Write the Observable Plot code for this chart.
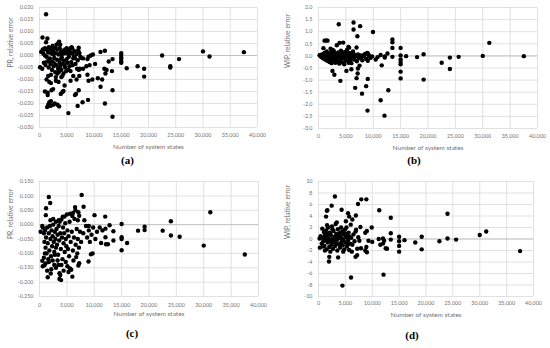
<!DOCTYPE html>
<html><head><meta charset="utf-8">
<script src="https://cdn.jsdelivr.net/npm/d3@7"></script>
<script src="https://cdn.jsdelivr.net/npm/@observablehq/plot@0.6"></script>
<style>
body{margin:0;background:#fff;}
#wrap{position:relative;width:550px;height:348px;overflow:hidden;background:#fff;}
.panel{position:absolute;}
</style></head><body><div id="wrap"></div>
<script>
const xTicks = [0,5000,10000,15000,20000,25000,30000,35000,40000];
const xTitle = "Number of system states";
const yTicksA = [0.02,0.015,0.01,0.005,0,-0.005,-0.01,-0.015,-0.02,-0.025,-0.03];
const yTicksB = [2,1.5,1,0.5,0,-0.5,-1,-1.5,-2,-2.5,-3];
const yTicksC = [0.15,0.1,0.05,0,-0.05,-0.1,-0.15,-0.2,-0.25];
const yTicksD = [10,8,6,4,2,0,-2,-4,-6,-8,-10];

// (a) PR relative error
const pointsA = [
[1200,0.0172],[550,0.0075],[1450,0.0071],[1200,0.0055],[3600,0.0058],[3400,0.0050],[3800,0.0045],[2400,0.0040],[1700,0.0035],[5000,0.0030],[5900,0.0035],[6000,0.0030],[7200,0.0032],[7100,0.0022],[4700,0.0025],[2900,0.0030],[2000,0.0025],[900,0.0025],[600,0.0025],[300,0.0015],[700,0.0008],[1000,0.0000],[1300,-0.0005],[1600,0.0012],[1900,-0.0012],[2200,0.0008],[2500,0.0018],[2700,-0.0010],[3000,0.0010],[3200,-0.0018],[3500,0.0004],[3700,-0.0030],[3900,0.0014],[4100,-0.0008],[4300,0.0020],[4500,-0.0022],[4800,0.0010],[5000,-0.0015],[5200,0.0022],[5400,-0.0005],[5600,0.0015],[5800,-0.0028],[6000,0.0008],[6200,-0.0012],[6400,0.0018],[6600,-0.0035],[6800,0.0005],[7000,-0.0020],[7300,0.0010],[7500,-0.0005],
[800,-0.0030],[1100,-0.0040],[1400,-0.0025],[1700,-0.0050],[2000,-0.0035],[2300,-0.0060],[2600,-0.0045],[2900,-0.0070],[3100,-0.0040],[3400,-0.0055],[3600,-0.0068],[3800,-0.0045],[4000,-0.0060],[4200,-0.0035],[4400,-0.0075],[4700,-0.0050],[4900,-0.0065],[5100,-0.0030],[5500,-0.0045],[5700,-0.0065],[6100,-0.0040],[6900,-0.0055],[7200,-0.0060],[100,-0.0049],[500,-0.0055],[2100,-0.0080],[3000,-0.0090],[3300,-0.0075],[1600,-0.0085],
[1000,0.0030],[1500,0.0020],[2200,0.0030],[2600,0.0005],[3100,0.0045],[3300,0.0025],[3700,0.0030],[4000,0.0005],[4400,0.0008],[4600,0.0015],[5300,0.0005],[5700,0.0030],[6300,-0.0005],[1800,-0.0020],[2400,-0.0025],[2800,-0.0035],[3900,-0.0015],[4600,-0.0040],[5300,-0.0060],[6500,-0.0010],
[1300,-0.0100],[1800,-0.0110],[2100,-0.0115],[3000,-0.0105],[3500,-0.0110],[4000,-0.0090],[4200,-0.0085],[4600,-0.0125],[5700,-0.0105],[6200,-0.0085],
[1000,-0.0150],[1500,-0.0155],[2200,-0.0145],[2500,-0.0140],[3900,-0.0160],[4200,-0.0152],[4400,-0.0148],[1500,-0.0165],
[1400,-0.0215],[1600,-0.0205],[1800,-0.0195],[2100,-0.0190],[2500,-0.0205],[2800,-0.0200],[3300,-0.0205],[3600,-0.0212],[2000,-0.0210],
[5300,-0.0240],
[6500,-0.0165],[6700,-0.0160],[7000,-0.0210],[7200,-0.0145],[7900,-0.0195],[8900,-0.0185],
[6800,-0.0100],[7300,-0.0085],[7400,-0.0055],[8000,-0.0055],[8600,-0.0045],[8800,-0.0080],[9000,-0.0105],[9700,-0.0100],
[7300,0.0010],[7600,-0.0010],[8000,-0.0012],[8800,-0.0015],[9000,-0.0005],[9400,0.0000],[9800,0.0004],[10200,-0.0035],[9200,-0.0040],
[10700,-0.0095],[11200,-0.0130],[11500,-0.0100],[11200,0.0015],[12000,0.0020],[11900,-0.0055],[12300,-0.0060],[12700,-0.0025],[12000,-0.0200],[12100,-0.0075],
[13400,-0.0015],[13300,-0.0065],[13400,-0.0145],[13400,-0.0255],
[15000,0.0010],[15000,0.0002],[15000,-0.0008],[15000,-0.0015],[15000,-0.0025],[15000,-0.0030],
[16000,-0.0053],[18000,-0.0045],[19200,-0.0055],[19200,-0.0088],
[22500,0.0000],[24000,-0.0045],[24000,-0.0050],[25600,-0.0015],[30000,0.0017],[31200,-0.0004],[37500,0.0014]
];

// (b) WIP relative error
const pointsB = [
[3700,1.31],[6400,1.38],[7600,1.23],[6400,1.09],[7100,0.81],[9950,0.99],
[1100,0.63],[1650,0.63],[1400,0.64],[3350,0.44],[3850,0.54],[4500,0.55],[5450,0.37],[5600,0.34],[6950,0.35],[2600,0.25],[2200,0.30],[900,0.32],
[13500,0.68],[13500,0.56],[13500,0.33],[13500,-0.04],
[15000,0.33],[15000,0.02],[15000,-0.15],[15000,-0.25],[15000,-0.35],[15000,-0.65],[15000,-0.93],
[11350,0.04],[12600,0.10],[12100,-0.07],[12100,-0.02],[10800,-0.05],
[16000,-0.01],[18000,-0.05],[19200,0.07],[19200,-0.98],[22500,-0.28],[24000,-0.07],[24000,-0.54],[25600,-0.04],[30000,0.00],[31200,0.54],[37500,-0.01],
[2550,-0.62],[2900,-0.78],[4000,-1.03],[5100,-0.62],[6000,-0.55],[6950,-0.92],[7150,-0.73],[7200,-0.52],[7500,-0.40],[6700,-1.32],[7950,-1.56],[8700,-1.25],[9000,-0.95],[8950,-2.26],[11350,-1.83],[11550,-0.39],[12750,-1.42],[12050,-2.47],[10450,-0.15],
[200,0.03],[400,-0.02],[500,0.05],[600,-0.05],[700,0.02],[800,-0.10],[900,0.08],[1000,-0.03],[1100,0.12],[1200,-0.15],[1300,0.00],[1400,-0.08],[1500,0.18],[1600,-0.20],[1700,0.05],[1800,-0.12],[1900,0.10],[2000,-0.25],[2100,0.02],[2200,-0.05],[2300,0.15],[2400,-0.30],[2500,0.06],[2600,-0.10],[2700,-0.02],[2800,0.20],[2900,-0.18],[3000,0.04],[3100,-0.28],[3200,0.10],[3300,-0.08],[3400,0.00],[3500,-0.22],[3600,0.14],[3700,-0.05],[3800,-0.32],[3900,0.07],[4000,-0.15],[4100,0.22],[4200,-0.02],[4300,-0.26],[4400,0.09],[4500,-0.10],[4600,0.02],[4700,-0.35],[4800,0.15],[4900,-0.06],[5000,-0.20],[5100,0.04],[5200,0.25],[5300,-0.12],[5400,0.01],[5500,-0.28],[5600,0.12],[5700,-0.04],[5800,-0.18],[5900,0.08],[6000,-0.30],[6100,0.00],[6200,-0.08],[6300,0.18],[6500,-0.15],[6600,0.05],[6800,-0.02],[7000,-0.22],[7200,0.06],[7400,-0.10],[7600,0.02],[7800,-0.05],[8000,-0.18],[8300,0.00],[8500,0.08],[8700,-0.12],[9000,0.10],[9000,-0.20],[9200,0.03],[9500,-0.08],[9800,-0.02],
[1000,0.05],[1500,-0.03],[2000,0.08],[2500,-0.15],[3000,-0.05],[3500,0.05],[4000,0.03],[4500,0.12],[5000,0.06],[5500,0.08],[6000,0.10],[3200,-0.12],[2200,-0.20],[1800,0.00],[4200,-0.08],
[8050,0.02],[8900,0.12],[9500,-0.07]
];

// (c) PR relative error
const pointsC = [
[1700,0.096],[1950,0.075],[1200,0.057],[1150,0.033],[7700,0.103],[8050,0.062],[6500,0.061],[6550,0.051],[5600,0.038],[6150,0.041],[4250,0.028],[4550,0.028],[7100,0.043],[7250,0.031],[10050,0.033],[12000,0.028],[31200,0.043],[24000,0.012],[19200,-0.007],[19200,-0.019],[18000,-0.021],[22500,-0.021],[24000,-0.038],[25600,-0.042],[30000,-0.073],[37500,-0.104],[15000,0.002],[15000,-0.044],[15000,-0.050],[15000,-0.089],[16000,-0.064],[13500,-0.023],[13500,-0.055],[12800,-0.002],[11250,-0.064],[12150,-0.068],[12500,-0.068],[12050,-0.014],[12050,-0.044],
[1500,-0.183],[3650,-0.189],[3950,-0.193],[6000,-0.181],[2050,-0.170],[500,-0.126],[900,-0.141],[2150,-0.155],[3450,-0.140],[3650,-0.169],[5800,-0.157],[5550,-0.152],[7100,-0.142],[7250,-0.134],[8950,-0.128],[9400,-0.103],[9700,-0.100],[6700,-0.113],[6900,-0.100],
[200,-0.025],[500,-0.005],[600,-0.010],[800,-0.030],[900,-0.060],[1000,-0.020],[1100,-0.080],[1200,-0.045],[1300,-0.100],[1400,-0.010],[1500,-0.065],[1600,-0.120],[1700,-0.030],[1800,-0.090],[1900,-0.005],[2000,-0.050],[2100,-0.110],[2200,-0.020],[2300,-0.075],[2400,-0.040],[2500,0.000],[2600,-0.060],[2700,-0.095],[2800,-0.025],[2900,-0.050],[3000,-0.080],[3100,-0.015],[3200,-0.070],[3300,-0.035],[3400,-0.105],[3500,-0.005],[3600,-0.055],[3700,0.010],[3800,-0.030],[3900,-0.085],[4000,0.018],[4100,-0.045],[4200,-0.120],[4300,-0.010],[4400,-0.065],[4500,-0.030],[4600,-0.095],[4700,0.005],[4800,-0.050],[4900,-0.075],[5000,0.035],[5100,-0.020],[5200,-0.085],[5300,-0.040],[5400,-0.110],[5500,0.010],[5700,-0.060],[5900,-0.025],[6100,-0.090],[6300,-0.045],[6400,0.020],[6600,-0.070],[6800,-0.015],[7000,-0.050],[7200,-0.080],[7400,-0.025],[7600,-0.060],[8000,-0.030],[8500,-0.005],[8700,-0.045],[9000,-0.020],[9200,-0.060],[9500,-0.035],[9800,-0.010],[10500,-0.025],[11000,-0.010],[11500,-0.020],[10200,-0.050],
[600,-0.145],[800,-0.115],[1100,-0.135],[1400,-0.160],[1700,-0.130],[2400,-0.125],[2700,-0.140],[3000,-0.150],[3300,-0.125],[4000,-0.140],[4400,-0.160],[4800,-0.130],[5100,-0.145],[5300,-0.165],[6200,-0.125],[3800,-0.175],[2800,-0.105],[1000,-0.100],
[2500,0.020],[3000,0.010],[3500,0.015],[2000,0.015],[6000,0.030],[7000,0.015],[8200,0.015],[9000,-0.005]
];

// (d) WIP relative error
const pointsD = [
[3050,7.4],[2450,5.8],[1650,5.0],[1550,4.9],[4300,5.1],[1400,3.9],[5500,4.5],[5700,3.9],[6300,3.4],[6950,4.1],[7350,6.1],[7950,6.9],[8900,6.9],[11300,5.0],[13450,3.7],[24000,4.4],[24000,0.1],[25600,-0.1],[30000,0.7],[31200,1.3],[37500,-2.1],[22500,-0.4],[19200,0.4],[19200,-1.8],[18000,-0.6],[16000,-0.2],[15000,0.4],[15000,-0.4],[15000,-1.2],[15000,-2.2],[13450,1.0],[13450,-0.1],[12750,-1.7],[12500,-1.6],[12100,-6.2],[4450,-8.1],[6050,-6.7],[2000,-3.1],[1950,-3.9],[3650,-3.2],[6900,-3.1],[7200,-2.8],[6200,-2.2],[200,0.1],[250,-1.5],[9900,2.0],[7800,2.1],
[9000,1.4],[8700,1.1],[11200,0.0],[11500,-1.0],[12000,0.1],[12200,-0.3],[12000,-0.8],[10000,-0.5],[9300,-0.3],[8900,-1.4],[8700,-2.0],[9000,-2.3],[7200,-1.7],[7900,-1.6],[7000,1.6],[7400,0.3],[7600,-0.3],
[400,0.5],[600,-0.8],[700,1.8],[800,0.2],[900,-0.4],[1000,1.2],[1100,-1.2],[1200,0.6],[1300,-0.2],[1400,1.5],[1500,-1.8],[1600,0.9],[1700,-0.6],[1800,2.0],[1900,0.1],[2000,-1.4],[2100,1.1],[2200,-0.3],[2300,0.7],[2400,-1.0],[2500,2.2],[2600,0.0],[2700,-1.7],[2800,1.4],[2900,-0.5],[3000,0.4],[3100,-1.2],[3200,2.6],[3300,0.9],[3400,-0.2],[3500,-2.0],[3600,1.7],[3700,0.2],[3800,-0.9],[3900,1.0],[4000,-1.5],[4100,0.5],[4200,2.0],[4300,-0.4],[4400,1.3],[4500,-1.1],[4600,0.0],[4700,0.8],[4800,-1.8],[4900,1.6],[5000,-0.6],[5100,0.3],[5200,2.0],[5300,-1.3],[5400,0.6],[5500,-0.2],[5600,1.1],[5700,-1.9],[5800,0.4],[5900,-0.8],[6000,2.5],[6100,0.2],[6300,-1.0],[6500,0.8],[6700,-0.4],[6900,1.3],
[1000,-0.1],[1500,0.3],[2000,0.8],[2500,-0.6],[3000,-0.1],[3500,0.6],[4000,0.2],[4500,-0.3],[5000,0.9],[5500,-0.9],[3200,-0.7],[2600,1.7],[4600,-2.2],[1200,-2.0],[800,-1.3],[3400,2.9],[5100,3.1],[4200,-0.9],[2200,-2.2],[1600,2.4]
];

const panels = [
  {data: pointsA, yTicks: yTicksA, fmt: d => d.toFixed(3), yLabel: "PR, relative error", cap: "(a)",
   left: 0, top: 0, mL: 39, mR: 18, mT: 7, pH: 120, tickPad: 6, titleDy: 21, capDy: 36, capDx: -21, ylabDx: -29},
  {data: pointsB, yTicks: yTicksB, fmt: d => d.toFixed(1), yLabel: "WIP, relative error", cap: "(b)",
   left: 275, top: 0, mL: 43, mR: 13, mT: 7, pH: 121, tickPad: 6, titleDy: 21, capDy: 35, capDx: -14, ylabDx: -31},
  {data: pointsC, yTicks: yTicksC, fmt: d => d.toFixed(3), yLabel: "PR, relative error", cap: "(c)",
   left: 0, top: 174, mL: 39, mR: 17, mT: 7, pH: 115, tickPad: 7, titleDy: 19, capDy: 40, capDx: -17, ylabDx: -29},
  {data: pointsD, yTicks: yTicksD, fmt: d => String(d), yLabel: "WIP, relative error", cap: "(d)",
   left: 275, top: 174, mL: 43, mR: 17, mT: 7, pH: 115, tickPad: 5, titleDy: 20, capDy: 42, capDx: -14, ylabDx: -31}
];

const wrap = document.getElementById("wrap");
for (const p of panels) {
  const H = 174;
  const mB = H - p.mT - p.pH;
  const yDom = [d3.min(p.yTicks), d3.max(p.yTicks)];
  const chart = Plot.plot({
    width: 275, height: H,
    marginLeft: p.mL, marginRight: p.mR, marginTop: p.mT, marginBottom: mB,
    style: {fontFamily: "Lato, 'Open Sans', sans-serif", background: "white"},
    x: {domain: [0, 40000]},
    y: {domain: yDom},
    marks: [
      Plot.gridX(xTicks, {stroke: "#d9d9d9", strokeOpacity: 1, strokeWidth: 0.8}),
      Plot.gridY(p.yTicks, {stroke: "#d9d9d9", strokeOpacity: 1, strokeWidth: 0.8}),
      Plot.ruleY([0], {stroke: "#bfbfbf", strokeWidth: 0.9}),
      Plot.axisX(xTicks, {tickSize: 0, tickPadding: p.tickPad, tickFormat: d3.format(","), fontSize: 5.4, color: "#737373", label: null}),
      Plot.axisY(p.yTicks, {tickSize: 0, tickPadding: 6, tickFormat: p.fmt, fontSize: 5.4, color: "#737373", label: null}),
      Plot.dot(p.data, {x: d => d[0], y: d => d[1], r: 2.2, fill: "black", stroke: null}),
      Plot.text([p.yLabel], {frameAnchor: "left", dx: p.ylabDx, rotate: -90, fontSize: 6.8, fill: "#737373"}),
      Plot.text([xTitle], {frameAnchor: "bottom", dy: p.titleDy, fontSize: 6.5, fill: "#737373"}),
      Plot.text([p.cap], {frameAnchor: "bottom", dy: p.capDy, dx: p.capDx, fontSize: 11, fontWeight: "bold", fontFamily: "'Liberation Serif', serif", fill: "black"})
    ]
  });
  const div = document.createElement("div");
  div.className = "panel";
  div.style.left = p.left + "px";
  div.style.top = p.top + "px";
  div.appendChild(chart);
  wrap.appendChild(div);
}
</script>
</body></html>
